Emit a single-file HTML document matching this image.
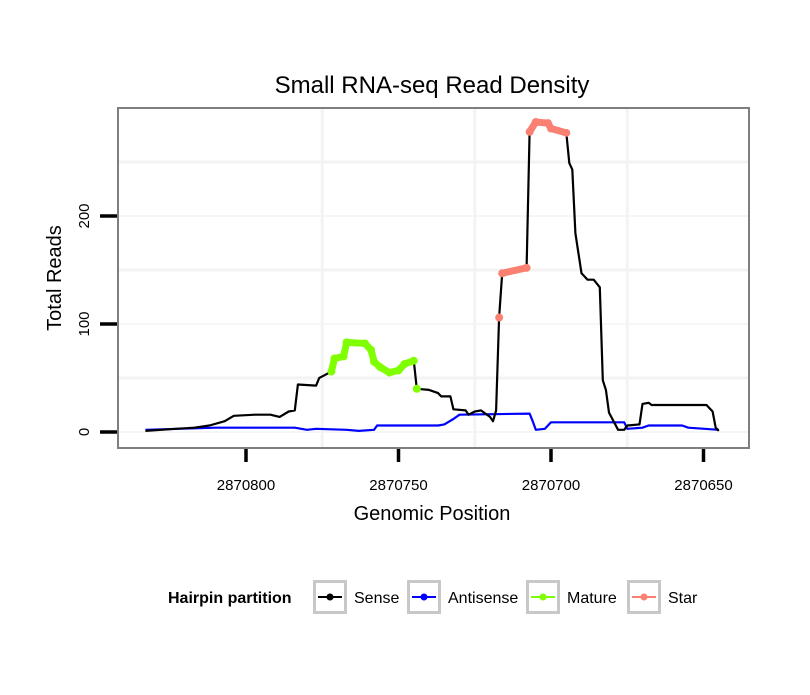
<!DOCTYPE html>
<html><head><meta charset="utf-8"><style>
body{margin:0;background:#fff;}
svg text{font-family:"Liberation Sans",sans-serif;}
</style></head><body>
<svg id="chart" width="810" height="690" xmlns="http://www.w3.org/2000/svg">
<rect width="810" height="690" fill="#fff"/>
<text x="432" y="93" font-size="24" text-anchor="middle">Small RNA-seq Read Density</text>
<rect x="118" y="108" width="631" height="340" fill="#fff"/>
<g id="grid"></g>
<g id="series"></g>
<rect x="118" y="108" width="631" height="340" fill="none" stroke="#7f7f7f" stroke-width="2"/>
<g id="axes"></g>
<text x="432" y="520" font-size="20" text-anchor="middle">Genomic Position</text>
<text transform="translate(61,278) rotate(-90)" font-size="20" text-anchor="middle">Total Reads</text>
<g>
<text x="168" y="603" font-size="16" font-weight="bold">Hairpin partition</text>
<g id="legend"></g>
</g>
</svg>
<script>
const sensePos=[2870833,2870823,2870817,2870812,2870807,2870804,2870797,2870792,2870789,2870786,2870784,2870783,2870777,2870776,2870774,2870772,2870771,2870768,2870767,2870761,2870759,2870758,2870756,2870753,2870750,2870748,2870745,2870744,2870740,2870737,2870736,2870733,2870732,2870728,2870727,2870725,2870723,2870720,2870719,2870718,2870717,2870716,2870708,2870707,2870705,2870701,2870700,2870695,2870694,2870693,2870692,2870690,2870688,2870686,2870684,2870683,2870682,2870681,2870678,2870676,2870675,2870671,2870670,2870668,2870667,2870649,2870647,2870646,2870645];
const senseVals=[1,3,4,6,10,15,16,16,14,19,20,44,43,50,53,56,68,70,83,82,76,65,60,55,57,63,66,40,39,36,33,33,21,20,16,19,20,14,10,20,106,147,152,278,287,286,281,277,249,243,184,147,141,141,134,48,39,18,2,2,6,7,26,27,25,25,19,4,1];
const antiPos=[2870833,2870810,2870784,2870780,2870777,2870767,2870763,2870758,2870757,2870737,2870735,2870732,2870730,2870707,2870706,2870705,2870702,2870700,2870684,2870676,2870675,2870670,2870668,2870657,2870655,2870645];
const antiVals=[2,4,4,2,3,2,1,2,6,6,7,12,16,17,10,2,3,9,9,9,3,4,6,6,4,2];
const matureRange=[2870772,2870744];
const starRange=[2870717,2870695];
const xTicks=[2870800,2870750,2870700,2870650];
const yTicks=[0,100,200];
const seriesNames=["Sense","Antisense","Mature","Star"];
const seriesColors=["#000000","#0000ff","#7fff00","#fa8072"];

const X=p=>246+(2870800-p)*3.05;
const Y=v=>432-v*1.08;
const NS="http://www.w3.org/2000/svg";
function mk(tag,attrs,parent){const e=document.createElementNS(NS,tag);for(const k in attrs)e.setAttribute(k,attrs[k]);parent.appendChild(e);return e;}
const grid=document.getElementById('grid'),ser=document.getElementById('series'),axes=document.getElementById('axes'),leg=document.getElementById('legend');

[50,150,250].forEach(v=>{const l=mk('line',{x1:118,x2:749,y1:Y(v),y2:Y(v),stroke:'#f3f3f3','stroke-width':3},grid);

});
yTicks.forEach(v=>{const l=mk('line',{x1:118,x2:749,y1:Y(v),y2:Y(v),stroke:'#f6f6f6','stroke-width':2},grid);

});
[2870775,2870725,2870675].forEach(p=>{const l=mk('line',{x1:X(p),x2:X(p),y1:108,y2:448,stroke:'#f3f3f3','stroke-width':3},grid);

});

function path(ps,vs){return ps.map((p,i)=>(i?'L':'M')+X(p).toFixed(1)+','+Y(vs[i]).toFixed(1)).join('');}
const aLine=mk('path',{d:path(antiPos,antiVals),fill:'none',stroke:'#0000ff','stroke-width':2.2,'stroke-linejoin':'round'},ser);


const sLine=mk('path',{d:path(sensePos,senseVals),fill:'none',stroke:'#000','stroke-width':2.2,'stroke-linejoin':'round'},ser);



function highlight(range,color,name){
  const idx=[];sensePos.forEach((p,i)=>{if(p<=range[0]&&p>=range[1])idx.push(i);});
  for(let k=0;k<idx.length-1;k++){const i=idx[k],j=idx[k+1];
    if(Math.abs(senseVals[i]-senseVals[j])<15){
      const l=mk('line',{x1:X(sensePos[i]),y1:Y(senseVals[i]),x2:X(sensePos[j]),y2:Y(senseVals[j]),stroke:color,'stroke-width':7,'stroke-linecap':'round'},ser);
      
      
    }}
  idx.forEach(i=>{const c=mk('circle',{cx:X(sensePos[i]),cy:Y(senseVals[i]),r:4,fill:color},ser);
    
    });
}
highlight(matureRange,'#7fff00','mature');
highlight(starRange,'#fa8072','star');

xTicks.forEach(p=>{const t=mk('line',{x1:X(p),x2:X(p),y1:449,y2:462,stroke:'#000','stroke-width':3.5},axes);


const tx=mk('text',{x:X(p),y:490,'font-size':15,'text-anchor':'middle'},axes);tx.textContent=p;

});
yTicks.forEach(v=>{const t=mk('line',{x1:100,x2:117,y1:Y(v),y2:Y(v),stroke:'#000','stroke-width':3.5},axes);


const tx=mk('text',{transform:`translate(89,${Y(v)}) rotate(-90)`,'font-size':15,'text-anchor':'middle'},axes);tx.textContent=v;

});

const boxX=[313,407,526,627];
seriesNames.forEach((n,i)=>{
  const g=mk('g',{},leg);
  
  
  mk('rect',{x:boxX[i]+1.5,y:581.5,width:31,height:31,fill:'#fff',stroke:'#c8c8c8','stroke-width':3},g);
  mk('line',{x1:boxX[i]+5,x2:boxX[i]+29,y1:597,y2:597,stroke:seriesColors[i],'stroke-width':2},g);
  mk('circle',{cx:boxX[i]+17,cy:597,r:3.5,fill:seriesColors[i]},g);
  const t=mk('text',{x:boxX[i]+41,y:603,'font-size':16},g);t.textContent=n;
});
</script>
</body></html>
